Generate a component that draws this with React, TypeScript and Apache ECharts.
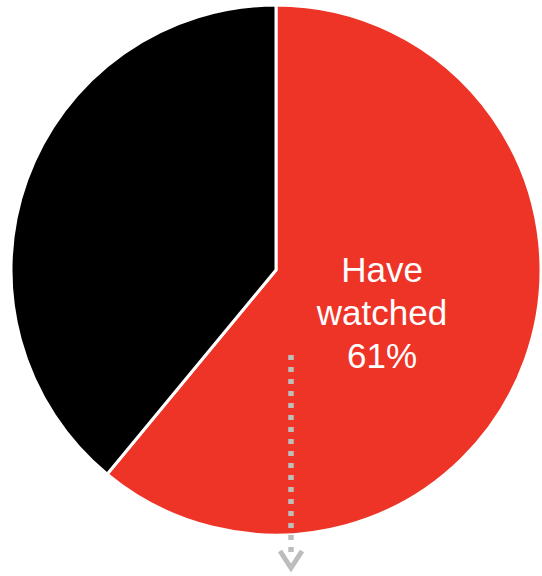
import React, { useEffect, useRef } from "react";
import * as echarts from "echarts";

const categories = ["Have watched", "Have not watched"];
const values = [61, 39];
const colors = ["#EE3427", "#000000"];
const labelLines = ["Have", "watched", "61%"];

export default function App() {
  const ref = useRef<HTMLDivElement>(null);
  useEffect(() => {
    if (!ref.current) return;
    const chart = echarts.init(ref.current, undefined, { renderer: "svg" });
    chart.setOption({
      animation: false,
      backgroundColor: "#ffffff",
      series: [
        {
          type: "pie",
          center: [276, 270],
          radius: 265,
          startAngle: 90,
          clockwise: true,
          label: { show: false },
          labelLine: { show: false },
          emphasis: { disabled: true },
          itemStyle: { borderColor: "#ffffff", borderWidth: 3 },
          data: categories.map((name, i) => ({
            name,
            value: values[i],
            itemStyle: { color: colors[i] },
          })),
        },
      ],
      graphic: [
        {
          type: "text",
          x: 382,
          y: 312,
          z: 10,
          style: {
            text: labelLines.join("\n"),
            fill: "#ffffff",
            font: '35px "Liberation Sans", Arial, sans-serif',
            lineHeight: 43,
            align: "center",
            verticalAlign: "middle",
          },
        },
        {
          type: "line",
          z: 10,
          shape: { x1: 291, y1: 355, x2: 291, y2: 556 },
          style: { stroke: "#BDBDBD", lineWidth: 5.5, lineDash: [5, 7] },
        },
        {
          type: "polyline",
          z: 10,
          shape: { points: [[280, 551], [291, 568], [302, 551]] },
          style: { stroke: "#BDBDBD", lineWidth: 5, fill: "none", lineJoin: "miter" },
        },
      ],
    });
    return () => chart.dispose();
  }, []);
  return (
    <div
      ref={ref}
      style={{ position: "fixed", left: 0, top: 0, width: 542, height: 576 }}
    />
  );
}
